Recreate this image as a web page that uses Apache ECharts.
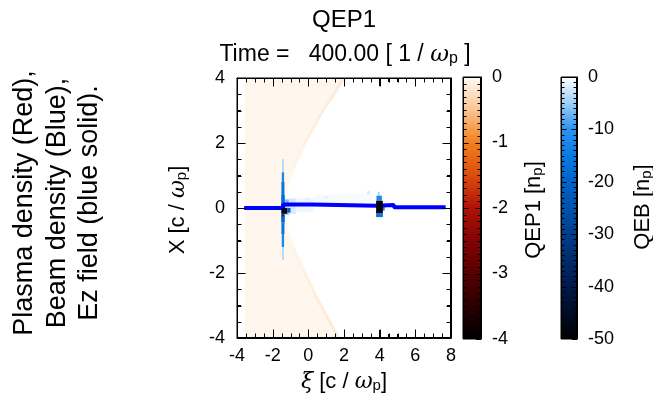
<!DOCTYPE html>
<html><head><meta charset="utf-8">
<script src="https://cdn.jsdelivr.net/npm/echarts@6/dist/echarts.min.js"></script>
<style>html,body{margin:0;padding:0;background:#fff}#c{width:653px;height:394px}</style>
</head><body><div id="c"></div><script>
// ---- data ----
const xiRange = [-4, 8];
const xRange = [-4, 4];
const xTickValues = [-4, -2, 0, 2, 4, 6, 8];
const yTickValues = [-4, -2, 0, 2, 4];
const plasmaBarRange = [-4, 0];
const beamBarRange = [-50, 0];
const plasmaTickValues = [-4, -3, -2, -1, 0];
const beamTickValues = [-50, -40, -30, -20, -10, 0];
const plasmaStops = [[0,'#fffaf4'],[-0.5,'#f9c592'],[-1,'#f28020'],[-1.5,'#dc4c0e'],[-2,'#b01208'],[-2.5,'#820404'],[-3,'#560000'],[-3.5,'#2a0000'],[-4,'#000000']];
const beamStops = [[0,'#ffffff'],[-5,'#9ccff8'],[-10,'#2a92f0'],[-15,'#0a7ae2'],[-20,'#0064c8'],[-25,'#0052ac'],[-30,'#003e8c'],[-40,'#00184a'],[-50,'#000000']];
const plasmaWindowStart = -3.55;
const plasmaTint = -0.035;
const coneUpper = [[-1.3,0.5],[-0.8,1.3],[-0.2,2.0],[0.6,2.8],[1.3,3.4],[2.0,4.0]];
const coneLower = [[-1.3,-0.5],[-0.8,-1.3],[-0.2,-2.0],[0.5,-2.8],[1.1,-3.4],[1.7,-4.0]];
const coneShade = [-0.04,-0.07,-0.1,-0.12,-0.15];
// beam cells: [xi0, xi1, x0, x1, density]
const beamCloud = [
  [-1.33,-1.05,-0.22,0.28,-4],[-1.05,-0.70,-0.18,0.30,-2],[-0.70,0.30,-0.12,0.30,-0.8],
  [0.30,1.60,0.12,0.40,-0.5],[1.60,3.60,0.15,0.45,-0.35],
  [-1.30,-1.10,0.12,0.24,-7],[-1.25,-1.05,-0.14,-0.04,-6],[-0.95,-0.75,0.16,0.26,-2.5],
  [-0.20,0.05,0.22,0.30,-1.5],[0.90,1.10,0.28,0.38,-1.2],[3.30,3.45,0.42,0.52,-2],
  [-1.46,-1.38,1.10,1.50,-5],[-1.49,-1.36,0.80,1.10,-12],[-1.51,-1.34,0.40,0.80,-16],
  [-1.52,-1.32,0.12,0.40,-18],[-1.53,-1.30,0.00,0.12,-24],
  [-1.52,-1.32,-0.45,-0.20,-19],[-1.51,-1.34,-0.80,-0.45,-16],[-1.49,-1.36,-1.20,-0.80,-12],
  [-1.46,-1.38,-1.60,-1.20,-5],
  [3.82,4.12,0.22,0.38,-12],[3.80,4.18,-0.28,-0.16,-16],[3.90,4.00,0.38,0.50,-5],[4.18,4.28,-0.08,0.12,-14]
];
const beamCore = [
  [-1.52,-1.18,-0.18,0.00,-46],[-1.50,-1.35,-0.26,-0.18,-30],[-1.18,-1.00,-0.14,0.00,-22],
  [3.80,4.18,-0.16,0.22,-48]
];
const ezLine = [[-3.6,0.0],[-1.42,0.0],[-1.42,0.11],[0.2,0.11],[0.2,0.07],[3.85,0.07],[3.85,0.09],[4.8,0.09],[4.8,0.02],[7.7,0.02]];

// ---- helpers ----
function hexRgb(h){return [parseInt(h.substr(1,2),16),parseInt(h.substr(3,2),16),parseInt(h.substr(5,2),16)];}
function colorAt(stops, v){
  if (v >= stops[0][0]) return stops[0][1];
  for (let i=0;i<stops.length-1;i++){
    const a=stops[i], b=stops[i+1];
    if (v<=a[0] && v>=b[0]){
      const t=(a[0]-v)/(a[0]-b[0]);
      const ca=hexRgb(a[1]), cb=hexRgb(b[1]);
      return 'rgb('+ca.map((c,k)=>Math.round(c+(cb[k]-c)*t)).join(',')+')';
    }
  }
  return stops[stops.length-1][1];
}
function barGradient(stops, range){
  return new echarts.graphic.LinearGradient(0,0,0,1, stops.map(s=>({offset:(range[1]-s[0])/(range[1]-range[0]), color:s[1]})));
}
function tickList(majors, split, majLen, minLen){
  const out=[];
  majors.forEach((m,i)=>{
    out.push([m, majLen]);
    if (i<majors.length-1){ const n=majors[i+1]; for(let k=1;k<split;k++) out.push([m+k*(n-m)/split, minLen]); }
  });
  return out;
}
const FONT = 'Liberation Sans';
const black = 'rgb(0,0,0)';

const chart = echarts.init(document.getElementById('c'));

function axisDef(grid, range, interval, pos, showLabel, margin, split, majLen, minLen){
  return {gridIndex:grid,type:'value',min:range[0],max:range[1],interval:interval,position:pos,
    axisLine:{show:true,onZero:false,lineStyle:{color:black,width:1}},
    axisTick:{show:true,inside:true,length:majLen,lineStyle:{color:black}},
    minorTick:{show:true,splitNumber:split,length:minLen,lineStyle:{color:black}},
    splitLine:{show:false},
    axisLabel:{show:showLabel,margin:margin,color:black,fontSize:18,fontFamily:FONT}};
}

const plasmaPolygon = [[plasmaWindowStart, xRange[1]]]
  .concat(coneUpper.slice().reverse())
  .concat(coneLower)
  .concat([[plasmaWindowStart, xRange[0]]]);
const coneSegments = [];
[coneUpper, coneLower].forEach(arr=>{
  for (let i=0;i<arr.length-1;i++) coneSegments.push([arr[i][0],arr[i][1],arr[i+1][0],arr[i+1][1],coneShade[i]]);
});

function cellRender(stops){
  return function(params, api){
    const p0 = api.coord([api.value(0), api.value(3)]);
    const p1 = api.coord([api.value(1), api.value(2)]);
    return {type:'rect', shape:{x:p0[0], y:p0[1], width:p1[0]-p0[0], height:p1[1]-p0[1]},
      style:{fill:colorAt(stops, api.value(4))}};
  };
}
// frame edges and inward ticks: one line per data item, placed through the axes' scales
function frameItems(xr, yr, xTicks, yTicks){
  // item: [x, y, dxPx, dyPx, x2, y2, mode] ; mode 0 = tick (pixel offset), 1 = edge (to data point)
  const items = [
    [xr[0],yr[0],0,0,xr[1],yr[0],1],[xr[1],yr[0],0,0,xr[1],yr[1],1],
    [xr[1],yr[1],0,0,xr[0],yr[1],1],[xr[0],yr[1],0,0,xr[0],yr[0],1]
  ];
  xTicks.forEach(t=>{ items.push([t[0],yr[0],0,-t[1],0,0,0]); items.push([t[0],yr[1],0,t[1],0,0,0]); });
  yTicks.forEach(t=>{ items.push([xr[0],t[0],t[1],0,0,0,0]); items.push([xr[1],t[0],-t[1],0,0,0,0]); });
  return items;
}
function frameSeries(xi, yi, xr, yr, xTicks, yTicks){
  const snapX = v => { const p = Math.round(v); return p; };
  return {type:'custom', xAxisIndex:xi, yAxisIndex:yi, data:frameItems(xr, yr, xTicks, yTicks), z:5, silent:true, clip:true,
    renderItem:function(params, api){
      const lo = api.coord([xr[0], yr[0]]), hi = api.coord([xr[1], yr[1]]);
      const sx = px => { const r=Math.round(px); return r >= Math.round(hi[0]) ? r-0.5 : r+0.5; };
      const sy = py => { const r=Math.round(py); return r >= Math.round(lo[1]) ? r-0.5 : r+0.5; };
      const a = api.coord([api.value(0), api.value(1)]);
      let x1 = sx(a[0]), y1 = sy(a[1]), x2, y2;
      if (api.value(6) === 1){
        const b = api.coord([api.value(4), api.value(5)]);
        x2 = sx(b[0]); y2 = sy(b[1]);
      } else {
        x2 = x1 + api.value(2); y2 = y1 + api.value(3);
      }
      return {type:'line', shape:{x1:x1,y1:y1,x2:x2,y2:y2}, style:{stroke:black, lineWidth:1}};
    }};
}
function colorbarSeries(xi, yi, stops, range){
  return {type:'custom', xAxisIndex:xi, yAxisIndex:yi, data:[[0,1,range[0],range[1]]], z:1, silent:true,
    renderItem:function(params, api){
      const p0 = api.coord([api.value(0), api.value(3)]);
      const p1 = api.coord([api.value(1), api.value(2)]);
      return {type:'rect', shape:{x:p0[0], y:p0[1], width:p1[0]-p0[0], height:p1[1]-p0[1]},
        style:{fill:barGradient(stops, range)}};
    }};
}

function richSet(size){
  const ss = Math.round(size*0.68);
  return {
    i:{fontSize:size, fontFamily:'DejaVu Serif', fontStyle:'italic', lineHeight:size},
    s:{fontSize:ss, fontFamily:FONT, lineHeight:ss, padding:[Math.round(size*0.9),0,0,0], verticalAlign:'bottom'}
  };
}
function txt(x, y, text, size, rot){
  return {type:'text', x:x, y:y, rotation:rot||0, silent:true, z:100,
    style:{text:text, fill:black, font:size+'px '+FONT, textAlign:'center', textVerticalAlign:'middle', rich:richSet(size)}};
}

const gridBorder = {show:true, borderColor:black, borderWidth:1, backgroundColor:'transparent'};
const option = {
  animation:false,
  backgroundColor:'#fff',
  grid:[
    Object.assign({left:237, top:78, width:214, height:260}, gridBorder),
    Object.assign({left:463, top:77, width:18, height:262}, gridBorder),
    Object.assign({left:561, top:77, width:16, height:262}, gridBorder)
  ],
  xAxis:[
    axisDef(0, xiRange, 2, 'bottom', true, 9, 4, 8, 4),
    axisDef(0, xiRange, 2, 'top', false, 9, 4, 8, 4),
    {gridIndex:1,type:'value',min:0,max:1,show:false},
    {gridIndex:2,type:'value',min:0,max:1,show:false}
  ],
  yAxis:[
    axisDef(0, xRange, 2, 'left', true, 12, 4, 8, 4),
    axisDef(0, xRange, 2, 'right', false, 12, 4, 8, 4),
    axisDef(1, plasmaBarRange, 1, 'right', true, 11, 10, 5, 3),
    axisDef(2, beamBarRange, 10, 'right', true, 11, 10, 5, 3)
  ],
  series:[
    {type:'custom', xAxisIndex:0, yAxisIndex:0, data:[0], z:1, silent:true, clip:true,
      renderItem:function(params, api){
        return {type:'polygon', shape:{points:plasmaPolygon.map(p=>api.coord(p))},
          style:{fill:colorAt(plasmaStops, plasmaTint)}};
      }},
    {type:'custom', xAxisIndex:0, yAxisIndex:0, data:coneSegments, z:1, silent:true, clip:true,
      renderItem:function(params, api){
        const a = api.coord([api.value(0), api.value(1)]);
        const b = api.coord([api.value(2), api.value(3)]);
        return {type:'line', shape:{x1:a[0],y1:a[1],x2:b[0],y2:b[1]},
          style:{stroke:colorAt(plasmaStops, api.value(4)), lineWidth:3, lineCap:'round'}};
      }},
    {type:'custom', xAxisIndex:0, yAxisIndex:0, data:beamCloud, z:2, silent:true, clip:true, renderItem:cellRender(beamStops)},
    {type:'line', xAxisIndex:0, yAxisIndex:0, data:ezLine, z:3, symbol:'none', silent:true,
      lineStyle:{color:'#0000ff', width:4}},
    {type:'custom', xAxisIndex:0, yAxisIndex:0, data:beamCore, z:4, silent:true, clip:true, renderItem:cellRender(beamStops)},
    colorbarSeries(2, 2, plasmaStops, plasmaBarRange),
    colorbarSeries(3, 3, beamStops, beamBarRange),
    frameSeries(0, 0, xiRange, xRange, tickList(xTickValues,4,8,4), tickList(yTickValues,4,8,4)),
    frameSeries(2, 2, [0,1], plasmaBarRange, [], tickList(plasmaTickValues,10,5,3)),
    frameSeries(3, 3, [0,1], beamBarRange, [], tickList(beamTickValues,10,5,3))
  ],
  graphic:[
    txt(344, 20, 'QEP1', 24),
    txt(345, 55, 'Time =   400.00 [ 1 / {i|ω}{s|p} ]', 23),
    txt(344, 382, '{i|ξ} [c / {i|ω}{s|p}]', 22),
    txt(178, 210, 'X [c / {i|ω}{s|p}]', 22, Math.PI/2),
    txt(534, 210, 'QEP1 [n{s|p}]', 22, Math.PI/2),
    txt(643, 207, 'QEB [n{s|p}]', 22, Math.PI/2),
    txt(25, 203, 'Plasma density (Red),', 27, Math.PI/2),
    txt(58, 203, 'Beam density (Blue),', 27, Math.PI/2),
    txt(90, 203, 'Ez field (blue solid).', 27, Math.PI/2)
  ]
};
chart.setOption(option);
</script></body></html>
